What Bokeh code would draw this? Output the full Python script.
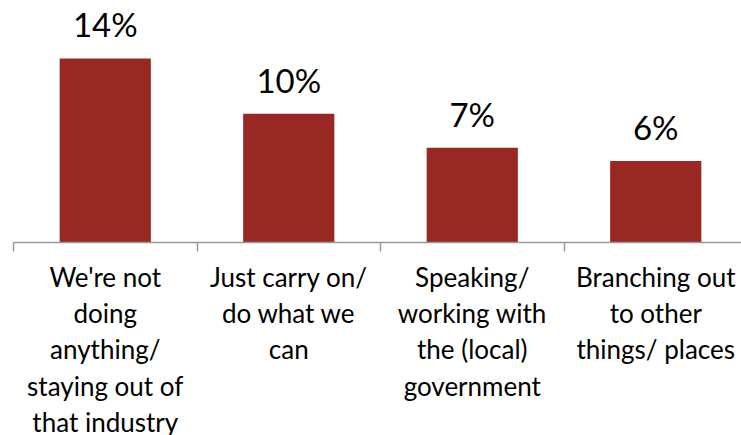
from bokeh.plotting import figure
from bokeh.models import Range1d, FixedTicker, Label, ColumnDataSource
from bokeh.embed import file_html
from bokeh.resources import INLINE
from bokeh.core.properties import value

categories = [
    "We're not\ndoing\nanything/\nstaying out of\nthat industry",
    "Just carry on/\ndo what we\ncan",
    "Speaking/\nworking with\nthe (local)\ngovernment",
    "Branching out\nto other\nthings/ places",
]
values = [14.0, 9.8, 7.2, 6.2]
labels = ["14%", "10%", "7%", "6%"]
page_number = "4"

xs = [i + 0.5 for i in range(len(categories))]
src = ColumnDataSource(dict(x=xs, top=values, label=labels))

p = figure(
    output_backend="svg", toolbar_location=None,
    frame_width=728, frame_height=234,
    min_border_left=13, min_border_right=0, min_border_top=8, min_border_bottom=193,
    x_range=Range1d(0, 728 / 183.5), y_range=Range1d(0, 17.8),
)
p.outline_line_color = None
p.xgrid.visible = False
p.ygrid.visible = False
p.yaxis.visible = False

p.vbar(x="x", top="top", width=0.497, source=src, fill_color="#9A2822", line_color=None)
p.text(x="x", y="top", text="label", source=src, text_align="center",
       text_baseline="alphabetic", y_offset=-34, text_font=value("Lato"),
       text_font_size="33px", text_color="#000000")

ax = p.xaxis[0]
ax.ticker = FixedTicker(ticks=xs, minor_ticks=[0, 1, 2, 3, 4])
ax.major_label_overrides = {x: c for x, c in zip(xs, categories)}
ax.axis_line_color = "#989898"
ax.axis_line_width = 1.5
ax.major_tick_line_color = None
ax.major_tick_out = 0
ax.major_tick_in = 0
ax.minor_tick_line_color = "#989898"
ax.minor_tick_line_width = 1.5
ax.minor_tick_out = 9
ax.minor_tick_in = 0
ax.major_label_standoff = 9
ax.major_label_text_font = "Lato"
ax.major_label_text_font_size = "26px"
ax.major_label_text_line_height = 1.14
ax.major_label_text_color = "#000000"

p.add_layout(Label(x=733, y=2, x_units="screen", y_units="screen", text=page_number,
                   text_baseline="alphabetic", level="overlay",
                   text_font="Lato", text_font_size="17px", text_color="#6E6E6E"))

open("out.html", "w").write(file_html(p, INLINE))
